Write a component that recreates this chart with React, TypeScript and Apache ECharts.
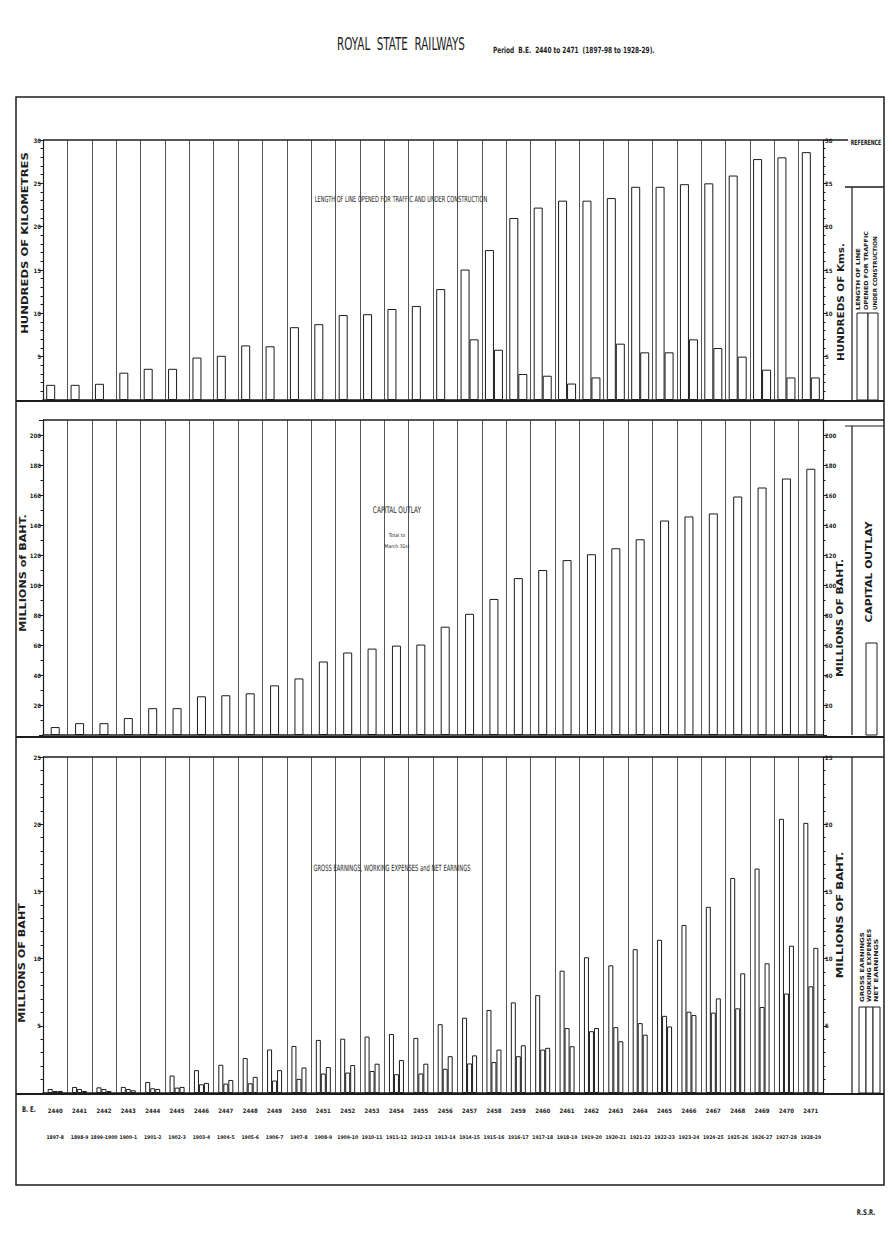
import React, { useEffect, useRef } from "react";
import * as echarts from "echarts";

const yearsBE = [
  "2440", "2441", "2442", "2443", "2444", "2445", "2446", "2447",
  "2448", "2449", "2450", "2451", "2452", "2453", "2454", "2455",
  "2456", "2457", "2458", "2459", "2460", "2461", "2462", "2463",
  "2464", "2465", "2466", "2467", "2468", "2469", "2470", "2471",
];
const yearsAD = [
  "1897-8", "1898-9", "1899-1900", "1900-1", "1901-2", "1902-3", "1903-4", "1904-5",
  "1905-6", "1906-7", "1907-8", "1908-9", "1909-10", "1910-11", "1911-12", "1912-13",
  "1913-14", "1914-15", "1915-16", "1916-17", "1917-18", "1918-19", "1919-20", "1920-21",
  "1921-22", "1922-23", "1923-24", "1924-25", "1925-26", "1926-27", "1927-28", "1928-29",
];

// hundreds of kilometres
const lineOpen = [
  1.75, 1.75, 1.87, 3.15, 3.6, 3.6, 4.9, 5.1,
  6.3, 6.2, 8.4, 8.75, 9.8, 9.9, 10.5, 10.85,
  12.8, 15.05, 17.3, 21.0, 22.2, 23.0, 23.0, 23.3,
  24.6, 24.6, 24.9, 25.0, 25.9, 27.8, 28.0, 28.6,
];
const lineConstruction = [
  null, null, null, null, null, null, null, null,
  null, null, null, null, null, null, null, null,
  null, 7.0, 5.8, 3.0, 2.8, 1.9, 2.6, 6.5,
  5.5, 5.5, 7.0, 6.0, 5.0, 3.5, 2.6, 2.6,
];
// millions of baht
const capitalOutlay = [
  5.3, 7.9, 7.9, 11.3, 17.9, 17.9, 25.8, 26.5,
  27.8, 33.1, 37.7, 49, 55, 57.6, 59.6, 60.3,
  72.2, 80.8, 90.7, 104.6, 110, 116.6, 120.5, 124.5,
  130.5, 143, 145.7, 147.7, 159, 165, 171, 177.5,
];
const grossEarnings = [
  0.3, 0.45, 0.42, 0.45, 0.82, 1.3, 1.7, 2.1,
  2.6, 3.24, 3.5, 3.95, 4.04, 4.2, 4.39, 4.1,
  5.12, 5.6, 6.18, 6.74, 7.28, 9.1, 10.1, 9.5,
  10.7, 11.4, 12.5, 13.85, 16.0, 16.7, 20.4, 20.1,
];
const workingExpenses = [
  0.15, 0.3, 0.3, 0.3, 0.35, 0.4, 0.65, 0.7,
  0.72, 0.93, 1.05, 1.45, 1.52, 1.64, 1.4, 1.45,
  1.8, 2.2, 2.3, 2.74, 3.23, 4.83, 4.6, 4.9,
  5.2, 5.74, 6.05, 5.98, 6.3, 6.4, 7.4, 7.94,
];
const netEarnings = [
  0.15, 0.15, 0.15, 0.2, 0.3, 0.45, 0.75, 0.97,
  1.2, 1.7, 1.9, 1.93, 2.08, 2.18, 2.45, 2.18,
  2.74, 2.8, 3.23, 3.55, 3.36, 3.48, 4.83, 3.85,
  4.34, 4.95, 5.8, 7.04, 8.9, 9.65, 10.96, 10.8,
];

const INK = "#1c1c1c";
const COND = "'Liberation Sans Narrow', 'DejaVu Sans Condensed', 'DejaVu Sans', sans-serif";
const BOLD = "'DejaVu Sans', 'Liberation Sans', sans-serif";

const PL = 43; // plot left
const PR = 823; // plot right

function catAxis(gridIndex: number, extra: any = {}) {
  return {
    gridIndex,
    type: "category",
    data: yearsBE,
    boundaryGap: true,
    axisLine: { show: true, lineStyle: { color: INK, width: 1.6 } },
    axisTick: { show: false },
    axisLabel: { show: false },
    splitLine: { show: true, interval: 0, lineStyle: { color: "#2a2a2a", width: 0.8 } },
    ...extra,
  };
}

function valAxis(gridIndex: number, position: string, max: number, interval: number, minorSplit: number) {
  return {
    gridIndex,
    type: "value",
    position,
    min: 0,
    max,
    interval,
    axisLine: { show: true, lineStyle: { color: INK, width: 1.2 } },
    axisTick: { show: true, length: 4, lineStyle: { color: INK, width: 1 } },
    minorTick: { show: true, splitNumber: minorSplit, length: 2.5, lineStyle: { color: INK, width: 1 } },
    splitLine: { show: false },
    minorSplitLine: { show: false },
    axisLabel: {
      fontSize: 6,
      fontWeight: "bold",
      fontFamily: COND,
      color: INK,
      margin: 2,
      showMinLabel: false,
      showMaxLabel: max % interval === 0,
    },
  };
}

const barStyle = { color: "#ffffff", borderColor: INK, borderWidth: 1 };

function hline(x1: number, x2: number, y: number, w = 1.2) {
  return { type: "line", silent: true, shape: { x1, y1: y, x2, y2: y }, style: { stroke: INK, lineWidth: w } };
}
function vline(x: number, y1: number, y2: number, w = 1.2) {
  return { type: "line", silent: true, shape: { x1: x, y1, x2: x, y2 }, style: { stroke: INK, lineWidth: w } };
}
function text(t: string, x: number, y: number, size: number, opts: any = {}) {
  const { align = "center", vAlign = "middle", weight = "normal", family = COND, scaleX = 1, scaleY = 1, rotation = 0, bg } = opts;
  const style: any = {
    text: t,
    fill: INK,
    fontSize: size,
    fontWeight: weight,
    fontFamily: family,
    textAlign: align,
    textVerticalAlign: vAlign,
  };
  if (bg) {
    style.backgroundColor = bg;
    style.padding = [1, 2];
  }
  return { type: "text", silent: true, x, y, scaleX, scaleY, rotation, style };
}
function vtext(t: string, x: number, y: number, size: number, stretch = 1, align = "center") {
  return text(t, x, y, size, { align, weight: "bold", family: BOLD, scaleX: stretch, rotation: Math.PI / 2 });
}
function box(x: number, y: number, w: number, h: number) {
  return { type: "rect", silent: true, shape: { x, y, width: w, height: h }, style: { fill: "#fff", stroke: INK, lineWidth: 1 } };
}

export default function App() {
  const ref = useRef<HTMLDivElement>(null);

  useEffect(() => {
    document.body.style.margin = "0";
    if (!ref.current) return;
    const chart = echarts.init(ref.current, null, { renderer: "svg" });

    const option: any = {
      animation: false,
      backgroundColor: "#ffffff",
      grid: [
        { left: PL, right: 892 - PR, top: 140, height: 260 },
        { left: PL, right: 892 - PR, top: 420, height: 315 },
        { left: PL, right: 892 - PR, top: 757, height: 336 },
      ],
      xAxis: [
        catAxis(0),
        catAxis(1),
        catAxis(2, {
          axisLabel: {
            show: true,
            interval: 0,
            margin: 14,
            fontSize: 6,
            fontWeight: "bold",
            fontFamily: COND,
            color: INK,
          },
        }),
        {
          gridIndex: 2,
          type: "category",
          data: yearsAD,
          position: "bottom",
          offset: 27,
          axisLine: { show: false },
          axisTick: { show: false },
          splitLine: { show: false },
          axisLabel: {
            show: true,
            interval: 0,
            margin: 14,
            fontSize: 5,
            fontWeight: "bold",
            fontFamily: COND,
            color: INK,
          },
        },
      ],
      yAxis: [
        valAxis(0, "left", 30, 5, 5),
        valAxis(0, "right", 30, 5, 5),
        valAxis(1, "left", 210, 20, 2),
        valAxis(1, "right", 210, 20, 2),
        valAxis(2, "left", 25, 5, 5),
        valAxis(2, "right", 25, 5, 5),
      ],
      series: [
        {
          name: "Length of line opened for traffic",
          type: "bar",
          xAxisIndex: 0,
          yAxisIndex: 0,
          data: lineOpen,
          barWidth: 9,
          barGap: "0%",
          itemStyle: barStyle,
        },
        {
          name: "Under construction",
          type: "bar",
          xAxisIndex: 0,
          yAxisIndex: 0,
          data: lineConstruction,
          barWidth: 9,
          barGap: "0%",
          itemStyle: barStyle,
        },
        {
          name: "Capital outlay",
          type: "bar",
          xAxisIndex: 1,
          yAxisIndex: 2,
          data: capitalOutlay,
          barWidth: 9,
          itemStyle: barStyle,
        },
        {
          name: "Gross earnings",
          type: "bar",
          xAxisIndex: 2,
          yAxisIndex: 4,
          data: grossEarnings,
          barWidth: 5,
          barGap: "0%",
          itemStyle: barStyle,
        },
        {
          name: "Working expenses",
          type: "bar",
          xAxisIndex: 2,
          yAxisIndex: 4,
          data: workingExpenses,
          barWidth: 5,
          barGap: "0%",
          itemStyle: barStyle,
        },
        {
          name: "Net earnings",
          type: "bar",
          xAxisIndex: 2,
          yAxisIndex: 4,
          data: netEarnings,
          barWidth: 5,
          barGap: "0%",
          itemStyle: barStyle,
        },
      ],
      graphic: [
        // outer frame
        { type: "rect", silent: true, shape: { x: 16, y: 97, width: 868, height: 1088 }, style: { fill: "none", stroke: INK, lineWidth: 1.5 } },
        // panel separators
        hline(PL, 848, 140, 1.6),
        hline(16, 884, 401, 2),
        hline(PL, 884, 420, 1.6),
        hline(845, 884, 426, 1.2),
        hline(16, 884, 737, 2),
        hline(PL, 884, 757, 1.6),
        hline(16, 884, 1094, 2),
        // legend column
        vline(852, 187, 400),
        hline(845, 884, 187, 1.6),
        vline(852, 426, 735),
        vline(852, 757, 1093),
        // titles
        text("ROYAL  STATE  RAILWAYS", 401, 44, 11, { family: COND, scaleX: 1.05, scaleY: 1.6 }),
        text("Period  B.E.  2440 to 2471  (1897-98 to 1928-29).", 493, 50, 6.5, { align: "left", family: COND, weight: "bold", scaleY: 1.3 }),
        // panel captions
        text("LENGTH OF LINE OPENED FOR TRAFFIC AND UNDER CONSTRUCTION", 401, 199, 5.6, { family: COND, scaleY: 1.5, bg: "#fff" }),
        text("CAPITAL OUTLAY", 397, 510, 6.5, { family: COND, scaleY: 1.4, bg: "#fff" }),
        text("Total to", 397, 535, 5, { family: COND, bg: "#fff" }),
        text("March 31st", 397, 546, 5, { family: COND, bg: "#fff" }),
        text("GROSS EARNINGS, WORKING EXPENSES and NET EARNINGS", 392, 868, 5.8, { family: COND, scaleY: 1.5, bg: "#fff" }),
        // axis titles
        vtext("HUNDREDS OF KILOMETRES", 25, 243, 8, 1.45),
        vtext("MILLIONS of BAHT.", 23, 573, 8, 1.4),
        vtext("MILLIONS OF BAHT", 22, 963, 8, 1.4),
        vtext("HUNDREDS OF Kms.", 841, 302, 8, 1.3),
        vtext("MILLIONS OF BAHT.", 840, 618, 8, 1.35),
        vtext("MILLIONS OF BAHT.", 840, 915, 8, 1.45),
        // legend: length of line
        text("REFERENCE", 866, 142, 5.2, { family: COND, weight: "bold", scaleY: 1.4 }),
        box(857, 313, 11, 87),
        box(868, 313, 10, 87),
        vtext("LENGTH OF LINE", 858, 310, 5.6, 1.2, "left"),
        vtext("OPENED FOR TRAFFIC", 866, 310, 5.6, 1.15, "left"),
        vtext("UNDER CONSTRUCTION", 875, 310, 5.6, 1.0, "left"),
        // legend: capital outlay
        vtext("CAPITAL OUTLAY", 869, 572, 8, 1.35),
        box(866, 643, 11, 92),
        // legend: earnings
        vtext("GROSS EARNINGS", 862, 1002, 5.6, 1.25, "left"),
        vtext("WORKING EXPENSES", 869, 1002, 5.6, 1.12, "left"),
        vtext("NET EARNINGS", 876, 1002, 5.6, 1.35, "left"),
        box(859, 1007, 7, 86),
        box(866, 1007, 7, 86),
        box(873, 1007, 7, 86),
        // x labels header
        text("B. E.", 22, 1110, 6, { align: "left", weight: "bold", family: COND, scaleY: 1.3 }),
        text("R.S.R.", 866, 1213, 6, { weight: "bold", family: COND, scaleY: 1.3 }),
      ],
    };

    chart.setOption(option);
    return () => chart.dispose();
  }, []);

  return <div ref={ref} style={{ width: 892, height: 1238 }} />;
}
